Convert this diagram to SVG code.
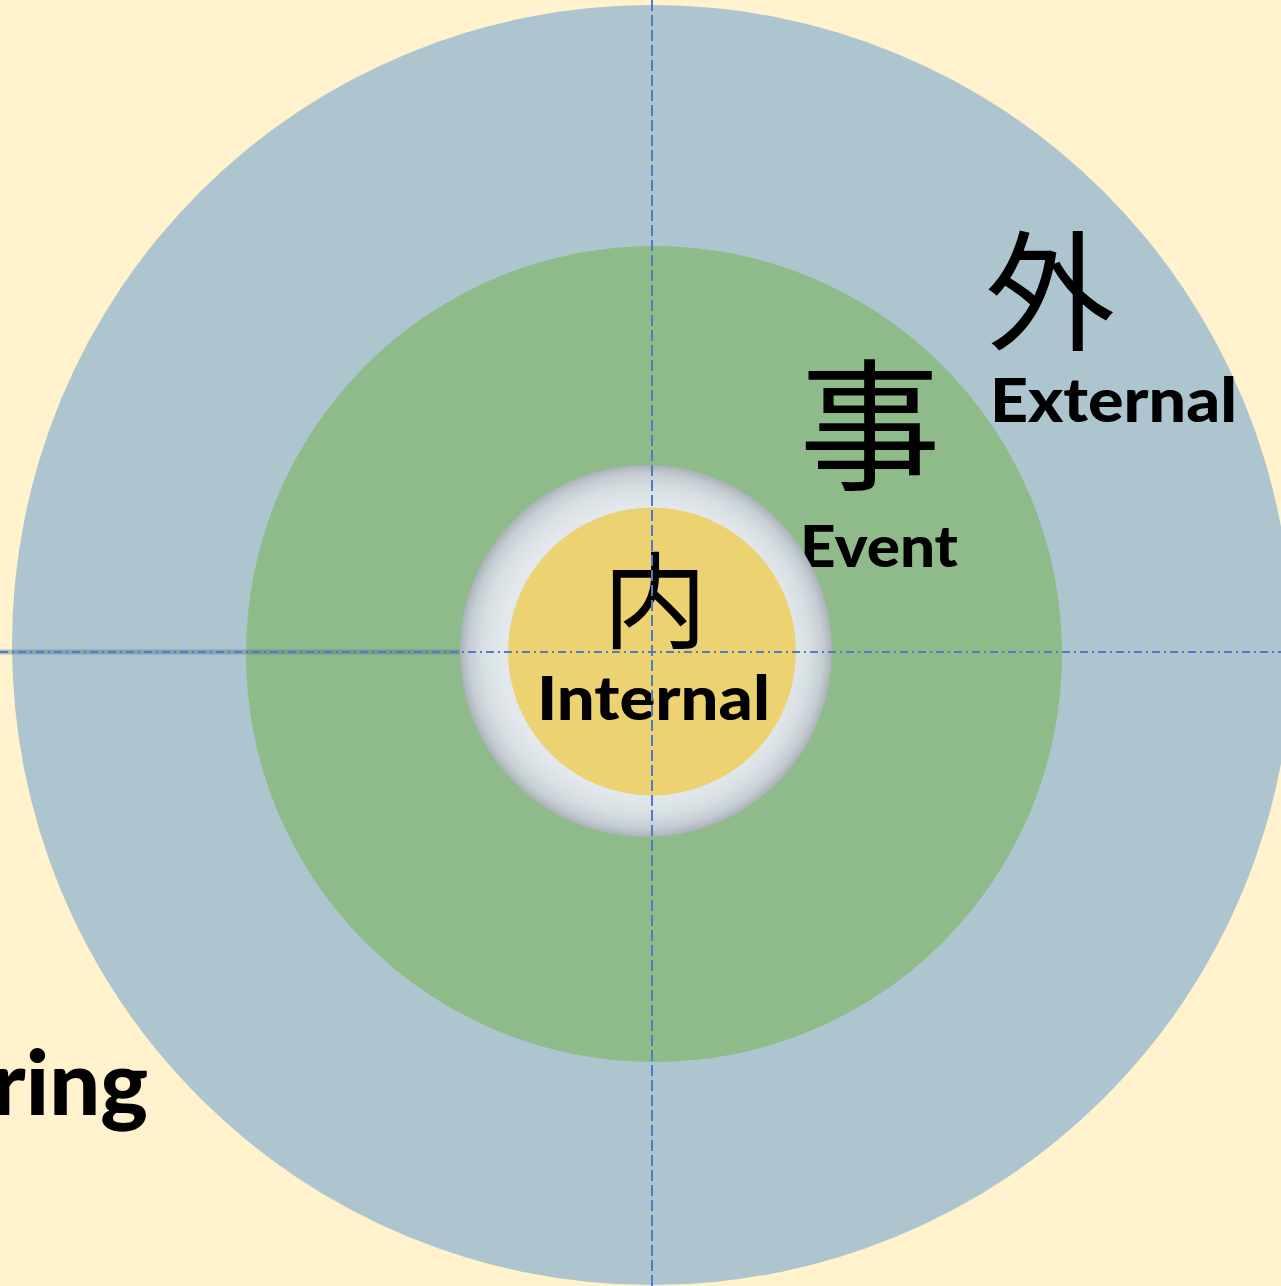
<svg xmlns="http://www.w3.org/2000/svg" width="1281" height="1286" viewBox="0 0 1281 1286">
  <defs>
    <radialGradient id="ringGrad" cx="646" cy="651" r="186" gradientUnits="userSpaceOnUse">
      <stop offset="0" stop-color="#E4EAEC"/>
      <stop offset="0.78" stop-color="#E2E8EB"/>
      <stop offset="0.88" stop-color="#D8DFE3"/>
      <stop offset="0.95" stop-color="#C6CDD3"/>
      <stop offset="1" stop-color="#ABB2B9"/>
    </radialGradient>
  </defs>
  <style>
    .lbl { font-family: "Lato", "Liberation Sans", sans-serif; font-weight: 900; fill: #000; }
    .cjk { font-family: "Noto Sans CJK JP", "Noto Sans CJK SC", sans-serif; font-weight: 400; fill: #000; }
    .axis { stroke: #4F7CC6; stroke-width: 2; fill: none; }
  </style>
  <rect x="0" y="0" width="1281" height="1286" fill="#FFF2CD"/>

  <g id="external">
    <circle cx="652" cy="645" r="640" fill="#ADC5CF"/>
    <text class="cjk" x="1050" y="340" font-size="130" text-anchor="middle">外</text>
    <text class="lbl" x="990" y="422" font-size="60" textLength="247" lengthAdjust="spacingAndGlyphs">External</text>
  </g>

  <g id="event">
    <circle cx="654" cy="654" r="408" fill="#8FBA8A"/>
    <text class="cjk" x="870" y="479" font-size="142" text-anchor="middle">事</text>
    <text class="lbl" x="800" y="567" font-size="57" textLength="158" lengthAdjust="spacingAndGlyphs">Event</text>
  </g>

  <g id="ring">
    <circle cx="646" cy="651" r="186" fill="url(#ringGrad)"/>
  </g>

  <g id="internal">
    <circle cx="652" cy="651.5" r="144" fill="#ECD270"/>
    <text class="cjk" x="655" y="640" font-size="105" text-anchor="middle">内</text>
    <text class="lbl" x="537" y="720" font-size="60" textLength="233" lengthAdjust="spacingAndGlyphs">Internal</text>
  </g>

  <g id="partial-label">
    <text class="lbl" x="148" y="1115" font-size="90" text-anchor="end">ring</text>
  </g>

  <g id="connectors">
    <line x1="0" y1="652" x2="460" y2="652" stroke="#5A7594" stroke-opacity="0.45" stroke-width="5"/>
    <line class="axis" x1="0" y1="652" x2="1281" y2="652" stroke-width="1.6" stroke-dasharray="8 4 2 4"/>
    <line class="axis" x1="652" y1="0" x2="652" y2="1286" stroke-dasharray="11 4"/>
  </g>
</svg>
